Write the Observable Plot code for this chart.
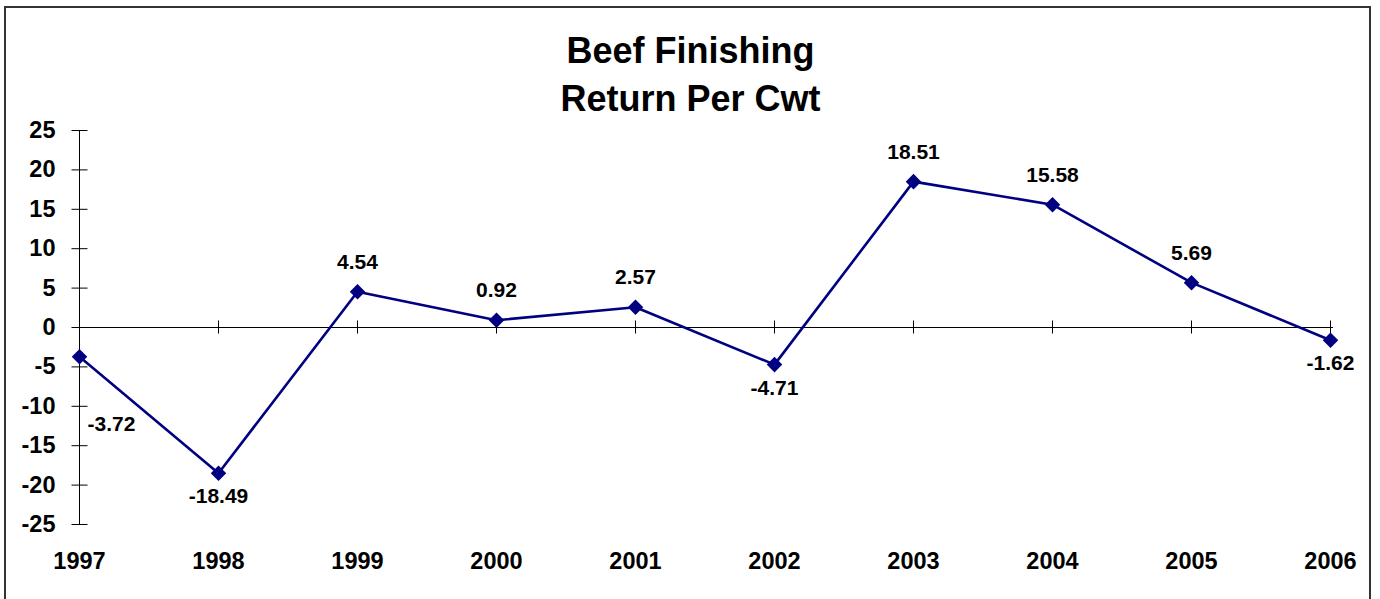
<!DOCTYPE html>
<html><head><meta charset="utf-8">
<script src="https://cdn.jsdelivr.net/npm/d3@7"></script>
<script src="https://cdn.jsdelivr.net/npm/@observablehq/plot@0.6"></script>
<style>
body{margin:0;background:#fff;}
#wrap{position:relative;width:1380px;height:599px;overflow:hidden;background:#fff;}
#border{position:absolute;left:4px;top:6px;width:1367px;height:640px;border:2px solid #333;box-sizing:border-box;pointer-events:none;}
#chart svg{display:block;}
</style></head><body>
<div id="wrap"><div id="chart"></div><div id="border"></div></div>
<script>
const years = ["1997","1998","1999","2000","2001","2002","2003","2004","2005","2006"];
const returns = [-3.72,-18.49,4.54,0.92,2.57,-4.71,18.51,15.58,5.69,-1.62];
const yTicks = [-25,-20,-15,-10,-5,0,5,10,15,20,25];
const titleLines = ["Beef Finishing","Return Per Cwt"];

const data = years.map((year,i)=>({year, value: returns[i], i}));
const above = data.filter(d => d.value >= 0);
const below = data.filter(d => d.value < 0 && d.i > 0);
const first = data.filter(d => d.i === 0);

const hTick = {draw(ctx){ctx.moveTo(-8,0);ctx.lineTo(8,0);}};
const vTick = {draw(ctx){ctx.moveTo(0,-7);ctx.lineTo(0,6);}};
const font = '"Liberation Sans", Arial, sans-serif';

const chart = Plot.plot({
  width: 1380, height: 599,
  marginLeft: 75, marginRight: 47, marginTop: 130, marginBottom: 75,
  x: {type: "point", domain: years, padding: 0},
  y: {domain: [-25, 25]},
  style: {fontFamily: font, background: "transparent", color: "#000"},
  marks: [
    Plot.ruleX([years[0]], {y1: -25, y2: 25, stroke: "#000", strokeWidth: 1}),
    Plot.dot(yTicks, {x: () => years[0], y: d => d, symbol: hTick, r: 5, stroke: "#000", fill: "none", strokeWidth: 1}),
    Plot.ruleY([0], {stroke: "#000", strokeWidth: 1}),
    Plot.dot(years, {x: d => d, y: () => 0, symbol: vTick, r: 5, stroke: "#000", fill: "none", strokeWidth: 1}),
    Plot.axisY({ticks: yTicks, tickSize: 0, tickPadding: 20, fontSize: 23.5, fontWeight: "bold", tickFormat: d => String(d), label: null}),
    Plot.axisX({tickSize: 0, tickPadding: 28, fontSize: 23.5, fontWeight: "bold", label: null}),
    Plot.line(data, {x: "year", y: "value", stroke: "#000080", strokeWidth: 2.6}),
    Plot.dot(data, {x: "year", y: "value", symbol: "diamond2", r: 7, fill: "#000080", stroke: "none"}),
    Plot.text(above, {x: "year", y: "value", text: d => d.value.toFixed(2), lineAnchor: "top", dy: -38, fontSize: 21, fontWeight: "bold", fill: "#000"}),
    Plot.text(below, {x: "year", y: "value", text: d => d.value.toFixed(2), lineAnchor: "top", dy: 15, fontSize: 21, fontWeight: "bold", fill: "#000"}),
    Plot.text(first, {x: "year", y: "value", text: d => d.value.toFixed(2), lineAnchor: "top", textAnchor: "start", dx: 8, dy: 59, fontSize: 21, fontWeight: "bold", fill: "#000"}),
    Plot.text([titleLines[0]], {frameAnchor: "top", text: d => d, lineAnchor: "top", dx: -14, dy: -93, fontSize: 36, fontWeight: "bold", fill: "#000"}),
    Plot.text([titleLines[1]], {frameAnchor: "top", text: d => d, lineAnchor: "top", dx: -14, dy: -45, fontSize: 36, fontWeight: "bold", fill: "#000"})
  ]
});
document.getElementById("chart").appendChild(chart);
</script>
</body></html>
